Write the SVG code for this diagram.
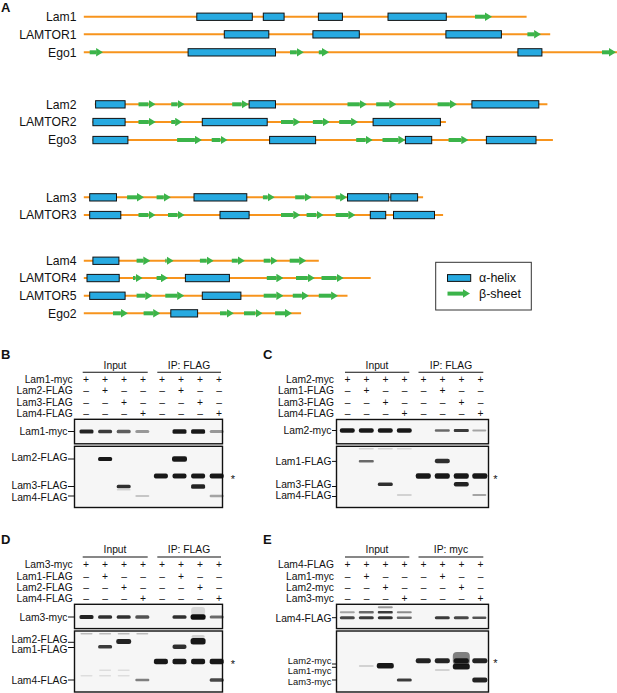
<svg xmlns="http://www.w3.org/2000/svg" width="617" height="693" viewBox="0 0 617 693">
<defs>
<style>
text{font-family:"Liberation Sans",Arial,Helvetica,sans-serif;fill:#111}
.pl{font-size:12.2px;text-anchor:end}
.k{font-size:13px;font-weight:bold}
.ln{stroke:#f7941d;stroke-width:2}
.h{fill:#27aae1;stroke:#111;stroke-width:1}
.ar{stroke:#3bb44a;stroke-width:4;marker-end:url(#ah)}
.w{font-size:10.3px}
.sm{font-size:9.4px}
.e{text-anchor:end}
.m{text-anchor:middle}
.st{font-size:11px}
.bx{fill:#f6f6f6;stroke:#111;stroke-width:1.4}
.rl{stroke:#111;stroke-width:1.1}
.tk{stroke:#111;stroke-width:1}
.bd{fill:#111;filter:url(#bl)}
</style>
<marker id="ah" markerUnits="userSpaceOnUse" markerWidth="7" markerHeight="8.5" refX="0" refY="4.25" orient="auto"><path d="M0,0L7,4.25L0,8.5Z" fill="#3bb44a"/></marker>
<filter id="bl" x="-30%" y="-100%" width="160%" height="300%"><feGaussianBlur stdDeviation="0.7"/></filter>
</defs>
<rect width="617" height="693" fill="#fff"/>

<g id="panelA">
<text class="k" x="1" y="12">A</text>
<g id="lam1"><text class="pl" x="76.5" y="21">Lam1</text><line class="ln" x1="83.8" y1="16.7" x2="526.6" y2="16.7"/>
<rect class="h" x="196.8" y="13.1" width="55.5" height="7.3"/><rect class="h" x="263.3" y="13.1" width="20.8" height="7.3"/><rect class="h" x="318.4" y="13.1" width="24" height="7.3"/><rect class="h" x="388" y="13.1" width="58.3" height="7.3"/>
<line class="ar" x1="475" y1="16.7" x2="485" y2="16.7"/></g>
<g id="lamtor1"><text class="pl" x="76.5" y="38.6">LAMTOR1</text><line class="ln" x1="83.8" y1="34.3" x2="550.2" y2="34.3"/>
<rect class="h" x="224.3" y="30.7" width="44.5" height="7.3"/><rect class="h" x="312.9" y="30.7" width="46.4" height="7.3"/><rect class="h" x="445.9" y="30.7" width="55.5" height="7.3"/>
<line class="ar" x1="527.4" y1="34.3" x2="534.1" y2="34.3"/></g>
<g id="ego1"><text class="pl" x="76.5" y="56.6">Ego1</text><line class="ln" x1="83.8" y1="52.3" x2="617" y2="52.3"/>
<rect class="h" x="188.1" y="48.7" width="87.4" height="7.3"/><rect class="h" x="517.9" y="48.7" width="24" height="7.3"/>
<line class="ar" x1="89.7" y1="52.3" x2="96.1" y2="52.3"/><line class="ar" x1="290" y1="52.3" x2="296.8" y2="52.3"/><line class="ar" x1="318.8" y1="52.3" x2="322" y2="52.3"/><line class="ar" x1="602" y1="52.3" x2="609" y2="52.3"/></g>

<g id="lam2"><text class="pl" x="76.5" y="108.6">Lam2</text><line class="ln" x1="94.8" y1="104.3" x2="547.4" y2="104.3"/>
<rect class="h" x="95.6" y="100.7" width="29.5" height="7.3"/><rect class="h" x="249.1" y="100.7" width="26.4" height="7.3"/><rect class="h" x="471.9" y="100.7" width="66.9" height="7.3"/>
<line class="ar" x1="138.5" y1="104.3" x2="148.5" y2="104.3"/><line class="ar" x1="171.2" y1="104.3" x2="177.6" y2="104.3"/><line class="ar" x1="232.2" y1="104.3" x2="241.7" y2="104.3"/><line class="ar" x1="347.5" y1="104.3" x2="359.8" y2="104.3"/><line class="ar" x1="376.2" y1="104.3" x2="389.3" y2="104.3"/><line class="ar" x1="437.6" y1="104.3" x2="449.9" y2="104.3"/></g>
<g id="lamtor2"><text class="pl" x="76.5" y="126.3">LAMTOR2</text><line class="ln" x1="92.5" y1="122" x2="445.9" y2="122"/>
<rect class="h" x="92.9" y="118.4" width="32.2" height="7.3"/><rect class="h" x="202.3" y="118.4" width="64.9" height="7.3"/><rect class="h" x="373.1" y="118.4" width="67.3" height="7.3"/>
<line class="ar" x1="138.5" y1="122" x2="148.8" y2="122"/><line class="ar" x1="171.2" y1="122" x2="175.2" y2="122"/><line class="ar" x1="281" y1="122" x2="293.3" y2="122"/><line class="ar" x1="312.9" y1="122" x2="322.8" y2="122"/><line class="ar" x1="339.2" y1="122" x2="351.1" y2="122"/></g>
<g id="ego3"><text class="pl" x="76.5" y="144.3">Ego3</text><line class="ln" x1="92.5" y1="140" x2="552.9" y2="140"/>
<rect class="h" x="92.9" y="136.4" width="35" height="7.3"/><rect class="h" x="269.6" y="136.4" width="46" height="7.3"/><rect class="h" x="405.4" y="136.4" width="26.3" height="7.3"/><rect class="h" x="486.4" y="136.4" width="49.6" height="7.3"/>
<line class="ar" x1="177.1" y1="140" x2="194.9" y2="140"/><line class="ar" x1="211.7" y1="140" x2="220.5" y2="140"/><line class="ar" x1="356.2" y1="140" x2="365.7" y2="140"/><line class="ar" x1="382.5" y1="140" x2="398.4" y2="140"/><line class="ar" x1="448.6" y1="140" x2="461.3" y2="140"/></g>

<g id="lam3"><text class="pl" x="76.5" y="201.6">Lam3</text><line class="ln" x1="83.8" y1="197.3" x2="423.1" y2="197.3"/>
<rect class="h" x="89.7" y="193.7" width="26.8" height="7.3"/><rect class="h" x="194" y="193.7" width="52.8" height="7.3"/><rect class="h" x="347.5" y="193.7" width="41.3" height="7.3"/><rect class="h" x="390.8" y="193.7" width="26.8" height="7.3"/>
<line class="ar" x1="127.1" y1="197.3" x2="137" y2="197.3"/><line class="ar" x1="156.6" y1="197.3" x2="163.8" y2="197.3"/><line class="ar" x1="262.9" y1="197.3" x2="267.7" y2="197.3"/><line class="ar" x1="295.2" y1="197.3" x2="304.7" y2="197.3"/><line class="ar" x1="335.7" y1="197.3" x2="340.1" y2="197.3"/></g>
<g id="lamtor3"><text class="pl" x="76.5" y="219.3">LAMTOR3</text><line class="ln" x1="83.8" y1="215" x2="443.1" y2="215"/>
<rect class="h" x="89.7" y="211.4" width="31.1" height="7.3"/><rect class="h" x="220" y="211.4" width="29.1" height="7.3"/><rect class="h" x="370.3" y="211.4" width="15.4" height="7.3"/><rect class="h" x="393.5" y="211.4" width="41" height="7.3"/>
<line class="ar" x1="138.5" y1="215" x2="148.5" y2="215"/><line class="ar" x1="168" y1="215" x2="177.6" y2="215"/><line class="ar" x1="281" y1="215" x2="293.3" y2="215"/><line class="ar" x1="306.6" y1="215" x2="316.5" y2="215"/><line class="ar" x1="335.7" y1="215" x2="348.4" y2="215"/></g>

<g id="lam4"><text class="pl" x="76.5" y="265">Lam4</text><line class="ln" x1="83.8" y1="260.7" x2="318.8" y2="260.7"/>
<rect class="h" x="92.9" y="257.1" width="26" height="7.3"/>
<line class="ar" x1="136.6" y1="260.7" x2="143.3" y2="260.7"/><line class="ar" x1="165.3" y1="260.7" x2="166.6" y2="260.7"/><line class="ar" x1="199.9" y1="260.7" x2="206.7" y2="260.7"/><line class="ar" x1="231.8" y1="260.7" x2="237.8" y2="260.7"/><line class="ar" x1="263.7" y1="260.7" x2="270.5" y2="260.7"/><line class="ar" x1="289.7" y1="260.7" x2="299.2" y2="260.7"/></g>
<g id="lamtor4"><text class="pl" x="76.5" y="282.3">LAMTOR4</text><line class="ln" x1="83.8" y1="278" x2="370.7" y2="278"/>
<rect class="h" x="87" y="274.4" width="32.2" height="7.3"/><rect class="h" x="185.4" y="274.4" width="44" height="7.3"/>
<line class="ar" x1="133" y1="278" x2="135.5" y2="278"/><line class="ar" x1="156.6" y1="278" x2="161" y2="278"/><line class="ar" x1="266.8" y1="278" x2="276.4" y2="278"/><line class="ar" x1="296" y1="278" x2="307.8" y2="278"/><line class="ar" x1="321.5" y1="278" x2="336.6" y2="278"/></g>
<g id="lamtor5"><text class="pl" x="76.5" y="300">LAMTOR5</text><line class="ln" x1="83.8" y1="295.7" x2="347.5" y2="295.7"/>
<rect class="h" x="89.7" y="292.1" width="35.4" height="7.3"/><rect class="h" x="202.3" y="292.1" width="38.6" height="7.3"/>
<line class="ar" x1="136.6" y1="295.7" x2="145.3" y2="295.7"/><line class="ar" x1="165.3" y1="295.7" x2="177.2" y2="295.7"/><line class="ar" x1="263.7" y1="295.7" x2="276.4" y2="295.7"/><line class="ar" x1="292.8" y1="295.7" x2="301.9" y2="295.7"/><line class="ar" x1="318.8" y1="295.7" x2="331.1" y2="295.7"/></g>
<g id="ego2"><text class="pl" x="76.5" y="317.6">Ego2</text><line class="ln" x1="83.8" y1="313.3" x2="301.1" y2="313.3"/>
<rect class="h" x="170.8" y="309.7" width="26.8" height="7.3"/>
<line class="ar" x1="113" y1="313.3" x2="120.9" y2="313.3"/><line class="ar" x1="143.6" y1="313.3" x2="153.2" y2="313.3"/><line class="ar" x1="220" y1="313.3" x2="226.8" y2="313.3"/><line class="ar" x1="244" y1="313.3" x2="255.5" y2="313.3"/><line class="ar" x1="275.1" y1="313.3" x2="285" y2="313.3"/></g>

<g id="legend"><rect x="435.7" y="262.3" width="95.6" height="47.7" fill="#fff" stroke="#333" stroke-width="1"/>
<rect class="h" x="447.5" y="274.6" width="23.2" height="6.8"/><text x="479" y="282.3" font-size="12.5">α-helix</text>
<line class="ar" x1="447.5" y1="293.6" x2="463" y2="293.6"/><text x="479" y="297.6" font-size="12.5">β-sheet</text></g>
</g>

<g id="connectors"></g>

<!-- Panel B -->
<g id="panelB">
<text class="k" x="1" y="359">B</text>
<text class="w m" x="115" y="368.5">Input</text><text class="w m" x="189" y="368.5">IP: FLAG</text>
<line class="rl" x1="82.7" y1="372.3" x2="147.7" y2="372.3"/><line class="rl" x1="157.3" y1="372.3" x2="221" y2="372.3"/>
<text class="w e" x="72.7" y="382.5">Lam1-myc</text><text class="w e" x="72.7" y="394">Lam2-FLAG</text><text class="w e" x="72.7" y="405.7">Lam3-FLAG</text><text class="w e" x="72.7" y="417.3">Lam4-FLAG</text>
<text class="w m" x="86" y="382.5">+</text><text class="w m" x="105" y="382.5">+</text><text class="w m" x="124" y="382.5">+</text><text class="w m" x="143" y="382.5">+</text><text class="w m" x="162" y="382.5">+</text><text class="w m" x="181" y="382.5">+</text><text class="w m" x="200" y="382.5">+</text><text class="w m" x="219" y="382.5">+</text>
<text class="w m" x="86" y="394">–</text><text class="w m" x="105" y="394">+</text><text class="w m" x="124" y="394">–</text><text class="w m" x="143" y="394">–</text><text class="w m" x="162" y="394">–</text><text class="w m" x="181" y="394">+</text><text class="w m" x="200" y="394">–</text><text class="w m" x="219" y="394">–</text>
<text class="w m" x="86" y="405.7">–</text><text class="w m" x="105" y="405.7">–</text><text class="w m" x="124" y="405.7">+</text><text class="w m" x="143" y="405.7">–</text><text class="w m" x="162" y="405.7">–</text><text class="w m" x="181" y="405.7">–</text><text class="w m" x="200" y="405.7">+</text><text class="w m" x="219" y="405.7">–</text>
<text class="w m" x="86" y="417.3">–</text><text class="w m" x="105" y="417.3">–</text><text class="w m" x="124" y="417.3">–</text><text class="w m" x="143" y="417.3">+</text><text class="w m" x="162" y="417.3">–</text><text class="w m" x="181" y="417.3">–</text><text class="w m" x="200" y="417.3">–</text><text class="w m" x="219" y="417.3">+</text>
<rect class="bx" x="74.5" y="419.3" width="148" height="24.5"/>
<rect class="bx" x="74.5" y="446.3" width="148" height="61.2"/>
<text class="w e" x="67.5" y="435.2">Lam1-myc</text><line class="tk" x1="68" y1="431.5" x2="74.5" y2="431.5"/>
<text class="w e" x="67.5" y="460.5">Lam2-FLAG</text><line class="tk" x1="68" y1="459" x2="74.5" y2="459"/>
<text class="w e" x="67.5" y="489">Lam3-FLAG</text><line class="tk" x1="68" y1="486.5" x2="74.5" y2="486.5"/>
<text class="w e" x="67.5" y="500.5">Lam4-FLAG</text><line class="tk" x1="68" y1="496" x2="74.5" y2="496"/>
<text class="st m" x="233" y="482.5">*</text>
<g id="bandsB">
<rect class="bd" x="79.5" y="429.5" width="14" height="4" rx="1.5" opacity=".9"/>
<rect class="bd" x="98.1" y="429.75" width="14" height="3.5" rx="1.5" opacity=".8"/>
<rect class="bd" x="116.7" y="429.75" width="14" height="3.5" rx="1.5" opacity=".65"/>
<rect class="bd" x="135.3" y="430" width="14" height="3" rx="1.5" opacity=".4"/>
<rect class="bd" x="172.5" y="429.25" width="14" height="4.5" rx="1.5" opacity=".95"/>
<rect class="bd" x="191.1" y="429.25" width="14" height="4.5" rx="1.5" opacity=".95"/>
<rect class="bd" x="209.7" y="430" width="14" height="3" rx="1.5" opacity=".4"/>
<rect class="bd" x="98.1" y="457" width="14" height="4" rx="1.5" opacity=".95"/>
<rect class="bd" x="172" y="456.25" width="15" height="5.5" rx="2" opacity=".95"/>
<rect class="bd" x="153.9" y="473.5" width="14" height="5" rx="2" opacity=".95"/>
<rect class="bd" x="172.5" y="473.5" width="14" height="5" rx="2" opacity=".95"/>
<rect class="bd" x="191.1" y="473.5" width="14" height="5" rx="2" opacity=".95"/>
<rect class="bd" x="209.7" y="473.5" width="14" height="5" rx="2" opacity=".95"/>
<rect class="bd" x="116.7" y="484.75" width="14" height="3.5" rx="1.5" opacity=".85"/>
<rect class="bd" x="116.7" y="489" width="14" height="1.5" rx=".7" opacity=".15"/>
<rect class="bd" x="191.1" y="484.25" width="14" height="4.5" rx="1.5" opacity=".9"/>
<rect class="bd" x="135.3" y="495" width="14" height="2" rx="1" opacity=".2"/>
<rect class="bd" x="209.7" y="494.75" width="14" height="2.5" rx="1" opacity=".35"/>
</g>
</g>

<!-- Panel C -->
<g id="panelC">
<text class="k" x="263" y="359">C</text>
<text class="w m" x="377" y="368.5">Input</text><text class="w m" x="451" y="368.5">IP: FLAG</text>
<line class="rl" x1="345" y1="372.3" x2="409.3" y2="372.3"/><line class="rl" x1="418.5" y1="372.3" x2="483.3" y2="372.3"/>
<text class="w e" x="334" y="382.5">Lam2-myc</text><text class="w e" x="334" y="394">Lam1-FLAG</text><text class="w e" x="334" y="405.7">Lam3-FLAG</text><text class="w e" x="334" y="417.3">Lam4-FLAG</text>
<text class="w m" x="347.5" y="382.5">+</text><text class="w m" x="366.5" y="382.5">+</text><text class="w m" x="385.5" y="382.5">+</text><text class="w m" x="404.6" y="382.5">+</text><text class="w m" x="423.6" y="382.5">+</text><text class="w m" x="442.5" y="382.5">+</text><text class="w m" x="461.5" y="382.5">+</text><text class="w m" x="480.5" y="382.5">+</text>
<text class="w m" x="347.5" y="394">–</text><text class="w m" x="366.5" y="394">+</text><text class="w m" x="385.5" y="394">–</text><text class="w m" x="404.6" y="394">–</text><text class="w m" x="423.6" y="394">–</text><text class="w m" x="442.5" y="394">+</text><text class="w m" x="461.5" y="394">–</text><text class="w m" x="480.5" y="394">–</text>
<text class="w m" x="347.5" y="405.7">–</text><text class="w m" x="366.5" y="405.7">–</text><text class="w m" x="385.5" y="405.7">+</text><text class="w m" x="404.6" y="405.7">–</text><text class="w m" x="423.6" y="405.7">–</text><text class="w m" x="442.5" y="405.7">–</text><text class="w m" x="461.5" y="405.7">+</text><text class="w m" x="480.5" y="405.7">–</text>
<text class="w m" x="347.5" y="417.3">–</text><text class="w m" x="366.5" y="417.3">–</text><text class="w m" x="385.5" y="417.3">–</text><text class="w m" x="404.6" y="417.3">+</text><text class="w m" x="423.6" y="417.3">–</text><text class="w m" x="442.5" y="417.3">–</text><text class="w m" x="461.5" y="417.3">–</text><text class="w m" x="480.5" y="417.3">+</text>
<rect class="bx" x="336.5" y="419.5" width="152" height="24.3"/>
<rect class="bx" x="336.5" y="446.3" width="152" height="61.2"/>
<text class="w e" x="331.5" y="434">Lam2-myc</text><line class="tk" x1="332" y1="430.5" x2="336.5" y2="430.5"/>
<text class="w e" x="331.5" y="465.1">Lam1-FLAG</text><line class="tk" x1="332" y1="461.4" x2="336.5" y2="461.4"/>
<text class="w e" x="331.5" y="488.2">Lam3-FLAG</text><line class="tk" x1="332" y1="486.5" x2="336.5" y2="486.5"/>
<text class="w e" x="331.5" y="498.6">Lam4-FLAG</text><line class="tk" x1="332" y1="496.5" x2="336.5" y2="496.5"/>
<text class="st m" x="495.5" y="482.8">*</text>
<g id="bandsC">
<rect class="bd" x="339.8" y="428.25" width="15" height="4.5" rx="2" opacity=".95"/>
<rect class="bd" x="358.8" y="428.25" width="15" height="4.5" rx="2" opacity=".95"/>
<rect class="bd" x="377.8" y="428.25" width="15" height="4.5" rx="2" opacity=".95"/>
<rect class="bd" x="396.8" y="428.25" width="15" height="4.5" rx="2" opacity=".95"/>
<rect class="bd" x="434.8" y="429.25" width="15" height="2.5" rx="1" opacity=".6"/>
<rect class="bd" x="453.8" y="429" width="15" height="3" rx="1" opacity=".8"/>
<rect class="bd" x="472.3" y="429.5" width="14" height="2" rx="1" opacity=".35"/>
<rect class="bd" x="358.8" y="448" width="15" height="1.5" rx=".7" opacity=".15"/>
<rect class="bd" x="377.8" y="448" width="15" height="1.5" rx=".7" opacity=".15"/>
<rect class="bd" x="396.8" y="448" width="15" height="1.5" rx=".7" opacity=".12"/>
<rect class="bd" x="358.8" y="459.9" width="15" height="2.5" rx="1" opacity=".6"/>
<rect class="bd" x="434.8" y="458.65" width="15" height="4.5" rx="2" opacity=".85"/>
<rect class="bd" x="415.8" y="473.25" width="15" height="5.5" rx="2" opacity=".95"/>
<rect class="bd" x="434.8" y="473.25" width="15" height="5.5" rx="2" opacity=".95"/>
<rect class="bd" x="453.8" y="473.25" width="15" height="5.5" rx="2" opacity=".95"/>
<rect class="bd" x="472.3" y="473.25" width="15" height="5.5" rx="2" opacity=".95"/>
<rect class="bd" x="377.8" y="482.55" width="15" height="3.5" rx="1.5" opacity=".85"/>
<rect class="bd" x="453.8" y="482.05" width="15" height="4.5" rx="2" opacity=".9"/>
<rect class="bd" x="396.8" y="494" width="15" height="2" rx="1" opacity=".15"/>
<rect class="bd" x="472.3" y="494" width="14" height="2" rx="1" opacity=".35"/>
</g>
</g>

<!-- Panel D -->
<g id="panelD">
<text class="k" x="1" y="544">D</text>
<text class="w m" x="115" y="553">Input</text><text class="w m" x="189" y="553">IP: FLAG</text>
<line class="rl" x1="82.7" y1="557" x2="147.7" y2="557"/><line class="rl" x1="157.3" y1="557" x2="221" y2="557"/>
<text class="w e" x="72.7" y="568">Lam3-myc</text><text class="w e" x="72.7" y="579.5">Lam1-FLAG</text><text class="w e" x="72.7" y="590.8">Lam2-FLAG</text><text class="w e" x="72.7" y="602">Lam4-FLAG</text>
<text class="w m" x="86" y="568">+</text><text class="w m" x="105" y="568">+</text><text class="w m" x="124" y="568">+</text><text class="w m" x="143" y="568">+</text><text class="w m" x="162" y="568">+</text><text class="w m" x="181" y="568">+</text><text class="w m" x="200" y="568">+</text><text class="w m" x="219" y="568">+</text>
<text class="w m" x="86" y="579.5">–</text><text class="w m" x="105" y="579.5">+</text><text class="w m" x="124" y="579.5">–</text><text class="w m" x="143" y="579.5">–</text><text class="w m" x="162" y="579.5">–</text><text class="w m" x="181" y="579.5">+</text><text class="w m" x="200" y="579.5">–</text><text class="w m" x="219" y="579.5">–</text>
<text class="w m" x="86" y="590.8">–</text><text class="w m" x="105" y="590.8">–</text><text class="w m" x="124" y="590.8">+</text><text class="w m" x="143" y="590.8">–</text><text class="w m" x="162" y="590.8">–</text><text class="w m" x="181" y="590.8">–</text><text class="w m" x="200" y="590.8">+</text><text class="w m" x="219" y="590.8">–</text>
<text class="w m" x="86" y="602">–</text><text class="w m" x="105" y="602">–</text><text class="w m" x="124" y="602">–</text><text class="w m" x="143" y="602">+</text><text class="w m" x="162" y="602">–</text><text class="w m" x="181" y="602">–</text><text class="w m" x="200" y="602">–</text><text class="w m" x="219" y="602">+</text>
<rect class="bx" x="74.5" y="604.3" width="148" height="24.3"/>
<rect class="bx" x="74.5" y="631" width="148" height="61"/>
<text class="w e" x="67.5" y="620.5">Lam3-myc</text><line class="tk" x1="68" y1="617" x2="74.5" y2="617"/>
<text class="w e" x="67.5" y="642.5">Lam2-FLAG</text><line class="tk" x1="68" y1="642.3" x2="74.5" y2="642.3"/>
<text class="w e" x="67.5" y="653.3">Lam1-FLAG</text><line class="tk" x1="68" y1="647.5" x2="74.5" y2="647.5"/>
<text class="w e" x="67.5" y="684">Lam4-FLAG</text><line class="tk" x1="68" y1="680" x2="74.5" y2="680"/>
<text class="st m" x="233" y="668">*</text>
<g id="bandsD">
<rect class="bd" x="79.5" y="615" width="14" height="4" rx="1.5" opacity=".9"/>
<rect class="bd" x="98.1" y="615.25" width="14" height="3.5" rx="1.5" opacity=".85"/>
<rect class="bd" x="116.7" y="615.25" width="14" height="3.5" rx="1.5" opacity=".85"/>
<rect class="bd" x="135.3" y="615.25" width="14" height="3.5" rx="1.5" opacity=".7"/>
<rect class="bd" x="172.5" y="615.25" width="14" height="3.5" rx="1.5" opacity=".85"/>
<rect class="bd" x="191.1" y="607" width="14" height="8" rx="3" opacity=".12"/>
<rect class="bd" x="190.6" y="614.25" width="15" height="5.5" rx="2" opacity="1"/>
<rect class="bd" x="209.7" y="615.5" width="14" height="3" rx="1.5" opacity=".6"/>
<rect class="bd" x="80.5" y="633" width="12" height="1.5" rx=".7" opacity=".25"/>
<rect class="bd" x="99.1" y="633" width="12" height="1.5" rx=".7" opacity=".25"/>
<rect class="bd" x="117.7" y="633" width="12" height="1.5" rx=".7" opacity=".25"/>
<rect class="bd" x="136.3" y="633" width="12" height="1.5" rx=".7" opacity=".25"/>
<rect class="bd" x="116.2" y="639" width="15" height="5" rx="2" opacity=".9"/>
<rect class="bd" x="190.6" y="638" width="15" height="6.5" rx="2.5" opacity=".95"/>
<rect class="bd" x="191.6" y="635" width="13" height="3" rx="1.5" opacity=".15"/>
<rect class="bd" x="98.1" y="645" width="14" height="3.5" rx="1.5" opacity=".8"/>
<rect class="bd" x="172.5" y="644.5" width="14" height="4.5" rx="2" opacity=".85"/>
<rect class="bd" x="153.9" y="658.75" width="14" height="5.5" rx="2" opacity=".95"/>
<rect class="bd" x="172.5" y="658.75" width="14" height="5.5" rx="2" opacity=".95"/>
<rect class="bd" x="191.1" y="658.75" width="14" height="5.5" rx="2" opacity=".95"/>
<rect class="bd" x="209.7" y="658.75" width="14" height="5.5" rx="2" opacity=".95"/>
<rect class="bd" x="99.1" y="669.5" width="12" height="1.5" rx=".7" opacity=".1"/>
<rect class="bd" x="117.7" y="669.5" width="12" height="1.5" rx=".7" opacity=".1"/>
<rect class="bd" x="80.5" y="675" width="12" height="1.5" rx=".7" opacity=".1"/>
<rect class="bd" x="99.1" y="675" width="12" height="1.5" rx=".7" opacity=".1"/>
<rect class="bd" x="117.7" y="675" width="12" height="1.5" rx=".7" opacity=".1"/>
<rect class="bd" x="135.3" y="678.75" width="14" height="2.5" rx="1" opacity=".5"/>
<rect class="bd" x="209.7" y="678.25" width="14" height="3.5" rx="1.5" opacity=".75"/>
</g>
</g>

<!-- Panel E -->
<g id="panelE">
<text class="k" x="263" y="544">E</text>
<text class="w m" x="377" y="553">Input</text><text class="w m" x="451" y="553">IP: myc</text>
<line class="rl" x1="345" y1="557" x2="409.3" y2="557"/><line class="rl" x1="418.5" y1="557" x2="483.3" y2="557"/>
<text class="w e" x="334" y="568">Lam4-FLAG</text><text class="w e" x="334" y="579.5">Lam1-myc</text><text class="w e" x="334" y="590.8">Lam2-myc</text><text class="w e" x="334" y="602">Lam3-myc</text>
<text class="w m" x="347.5" y="568">+</text><text class="w m" x="366.5" y="568">+</text><text class="w m" x="385.5" y="568">+</text><text class="w m" x="404.6" y="568">+</text><text class="w m" x="423.6" y="568">+</text><text class="w m" x="442.5" y="568">+</text><text class="w m" x="461.5" y="568">+</text><text class="w m" x="480.5" y="568">+</text>
<text class="w m" x="347.5" y="579.5">–</text><text class="w m" x="366.5" y="579.5">+</text><text class="w m" x="385.5" y="579.5">–</text><text class="w m" x="404.6" y="579.5">–</text><text class="w m" x="423.6" y="579.5">–</text><text class="w m" x="442.5" y="579.5">+</text><text class="w m" x="461.5" y="579.5">–</text><text class="w m" x="480.5" y="579.5">–</text>
<text class="w m" x="347.5" y="590.8">–</text><text class="w m" x="366.5" y="590.8">–</text><text class="w m" x="385.5" y="590.8">+</text><text class="w m" x="404.6" y="590.8">–</text><text class="w m" x="423.6" y="590.8">–</text><text class="w m" x="442.5" y="590.8">–</text><text class="w m" x="461.5" y="590.8">+</text><text class="w m" x="480.5" y="590.8">–</text>
<text class="w m" x="347.5" y="602">–</text><text class="w m" x="366.5" y="602">–</text><text class="w m" x="385.5" y="602">–</text><text class="w m" x="404.6" y="602">+</text><text class="w m" x="423.6" y="602">–</text><text class="w m" x="442.5" y="602">–</text><text class="w m" x="461.5" y="602">–</text><text class="w m" x="480.5" y="602">+</text>
<rect class="bx" x="336.5" y="604.3" width="152" height="24.3"/>
<rect class="bx" x="336.5" y="631" width="152" height="61"/>
<text class="w e" x="331.5" y="621.5">Lam4-FLAG</text><line class="tk" x1="332" y1="617.7" x2="336.5" y2="617.7"/>
<text class="sm e" x="331.5" y="663.6">Lam2-myc</text><line class="tk" x1="332" y1="664" x2="336.5" y2="664"/>
<text class="sm e" x="331.5" y="674">Lam1-myc</text><line class="tk" x1="332" y1="667.3" x2="336.5" y2="667.3"/>
<text class="sm e" x="331.5" y="684.6">Lam3-myc</text><line class="tk" x1="332" y1="680" x2="336.5" y2="680"/>
<text class="st m" x="495.5" y="667">*</text>
<g id="bandsE">
<rect class="bd" x="339.8" y="611.3" width="15" height="2" rx="1" opacity=".35"/>
<rect class="bd" x="339.8" y="616.2" width="15" height="3" rx="1.5" opacity=".75"/>
<rect class="bd" x="358.8" y="611.05" width="15" height="2.5" rx="1" opacity=".6"/>
<rect class="bd" x="358.8" y="616.2" width="15" height="3" rx="1.5" opacity=".8"/>
<rect class="bd" x="377.8" y="606.3" width="15" height="2" rx="1" opacity=".4"/>
<rect class="bd" x="377.8" y="611.05" width="15" height="2.5" rx="1" opacity=".8"/>
<rect class="bd" x="377.8" y="616.2" width="15" height="3" rx="1.5" opacity=".85"/>
<rect class="bd" x="396.8" y="611.3" width="15" height="2" rx="1" opacity=".45"/>
<rect class="bd" x="396.8" y="616.45" width="15" height="2.5" rx="1" opacity=".6"/>
<rect class="bd" x="434.8" y="616.2" width="15" height="3" rx="1.5" opacity=".8"/>
<rect class="bd" x="453.8" y="616.2" width="15" height="3" rx="1.5" opacity=".75"/>
<rect class="bd" x="472.3" y="616.45" width="14" height="2.5" rx="1" opacity=".7"/>
<rect class="bd" x="415.8" y="658.2" width="15" height="5" rx="2" opacity=".9"/>
<rect class="bd" x="434.8" y="658.2" width="15" height="5" rx="2" opacity=".9"/>
<rect class="bd" x="453.8" y="658.2" width="15" height="5" rx="2" opacity=".9"/>
<rect class="bd" x="472.3" y="658.2" width="15" height="5" rx="2" opacity=".9"/>
<rect class="bd" x="376.8" y="663" width="17" height="5.5" rx="2" opacity=".95"/>
<rect class="bd" x="452.8" y="652" width="17" height="13" rx="4" opacity=".5"/>
<rect class="bd" x="452.8" y="663.5" width="17" height="6" rx="2.5" opacity=".95"/>
<rect class="bd" x="358.8" y="665" width="15" height="2" rx="1" opacity=".15"/>
<rect class="bd" x="434.8" y="669" width="15" height="2" rx="1" opacity=".15"/>
<rect class="bd" x="396.8" y="678.5" width="15" height="3" rx="1.5" opacity=".8"/>
<rect class="bd" x="472.3" y="677.5" width="15" height="5" rx="2" opacity=".9"/>
</g>
</g>
</svg>
